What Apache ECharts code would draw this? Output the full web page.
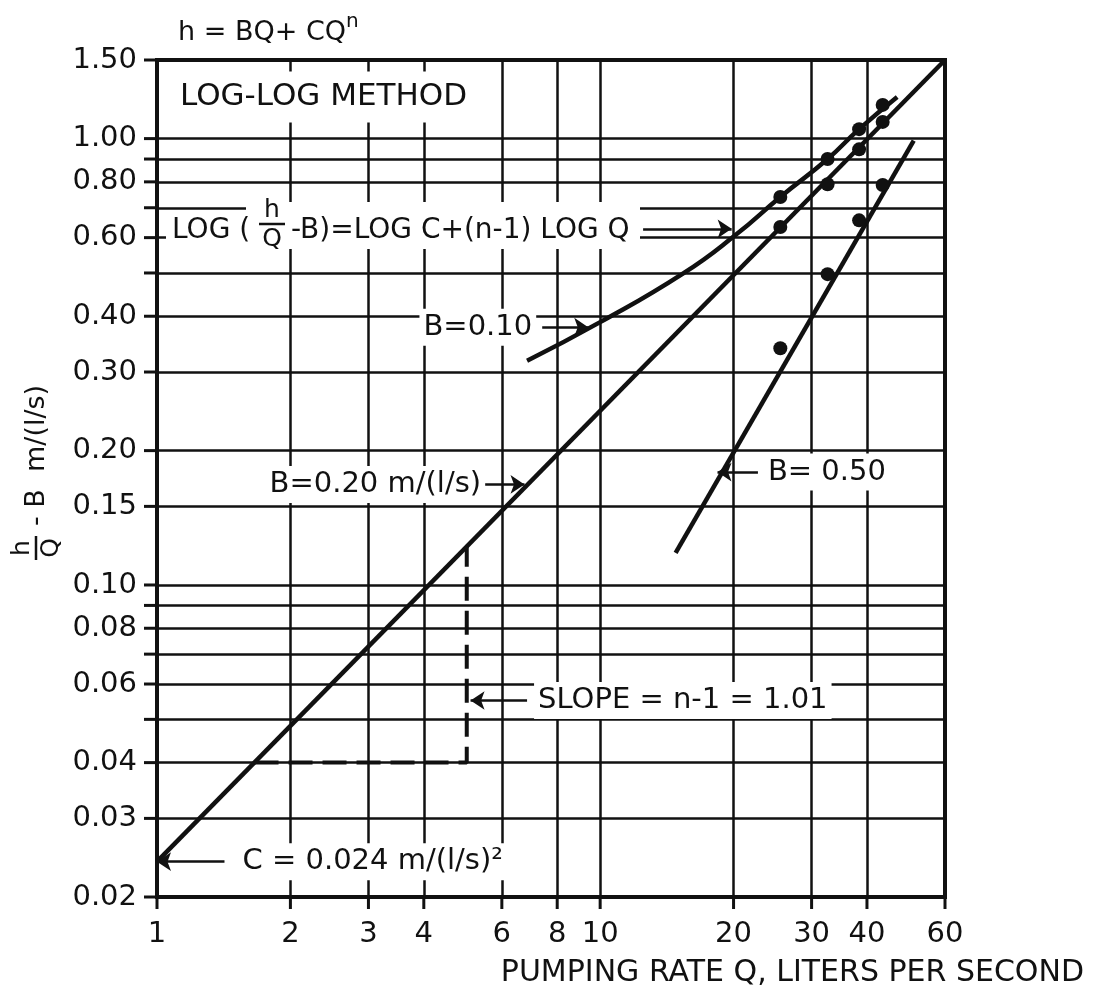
<!DOCTYPE html>
<html>
<head>
<meta charset="utf-8">
<script src="https://cdn.jsdelivr.net/npm/echarts@6/dist/echarts.min.js"></script>
<style>
  html, body { margin: 0; padding: 0; background: #fff; }
  #chart { width: 1097px; height: 991px; }
</style>
</head>
<body>
<div id="chart"></div>
<script>
// log-log paper, Q in l/s against h/Q - B
const xGrid = [2, 3, 4, 6, 8, 10, 20, 30, 40];
const xTicks = [1, 2, 3, 4, 6, 8, 10, 20, 30, 40, 60];
const xTickLabels = ['1', '2', '3', '4', '6', '8', '10', '20', '30', '40', '60'];
const yGrid = [1.0, 0.9, 0.8, 0.7, 0.6, 0.5, 0.4, 0.3, 0.2, 0.15, 0.1, 0.09, 0.08, 0.07, 0.06, 0.05, 0.04, 0.03];
const yTicks = [1.5, 1.0, 0.9, 0.8, 0.7, 0.6, 0.5, 0.4, 0.3, 0.2, 0.15, 0.1, 0.09, 0.08, 0.07, 0.06, 0.05, 0.04, 0.03, 0.02];
const yTickLabels = ['1.50', '1.00', '', '0.80', '', '0.60', '', '0.40', '0.30', '0.20', '0.15', '0.10', '', '0.08', '', '0.06', '', '0.04', '0.03', '0.02'];

// pumping test points
const qTest = [25.5, 32.6, 38.4, 43.4];
const b10Pts = [0.74, 0.90, 1.05, 1.19];
const b20Pts = [0.634, 0.79, 0.946, 1.09];
const b50Pts = [0.339, 0.497, 0.656, 0.787];

// fitted curves
const b10CurveQ = [6.84, 10, 15.4, 20.2, 25.5, 32.6, 38.4, 46.8];
const b10CurveV = [0.318, 0.388, 0.499, 0.608, 0.74, 0.90, 1.05, 1.24];
const b20LineQ = [1, 60];
const b20LineV = [0.024, 1.5];
const b50LineQ = [14.8, 51];
const b50LineV = [0.118, 0.99];
const slopeQ = [1.66, 5, 5];
const slopeV = [0.04, 0.04, 0.122];

// arrows: text, tail, head, gap
const noteText = ['B=0.10', 'B=0.20 m/(l/s)', 'B= 0.50', 'SLOPE = n-1 = 1.01', 'C = 0.024 m/(l/s)\u00b2', ''];
const noteFrom = [[7.4, 0.378], [5.5, 0.168], [22.7, 0.179], [6.84, 0.0551], [1.42, 0.024], [12.5, 0.628]];
const noteTo = [[9.4, 0.378], [6.75, 0.168], [18.4, 0.179], [5.1, 0.0551], [1.0, 0.024], [19.8, 0.628]];
const noteGap = [6, 0, 6, 7, 14, 0];

const FONT = '"DejaVu Sans", "Liberation Sans", sans-serif';
const INK = '#111';

const pairs = (xs, ys) => xs.map((x, i) => [x, ys[i]]);
const plainAxis = {
  type: 'log',
  logBase: 10,
  axisLine: { show: false },
  axisTick: { show: false },
  axisLabel: { show: false },
  splitLine: { show: false }
};

let myChart = echarts.init(document.getElementById('chart'));

let option = {
  animation: false,
  backgroundColor: '#fff',
  grid: {
    left: 157, right: 152, top: 60, bottom: 94,
    show: true, borderColor: INK, borderWidth: 4,
    outerBoundsMode: 'none'
  },
  xAxis: Object.assign({}, plainAxis, { min: 1, max: 60 }),
  yAxis: Object.assign({}, plainAxis, { min: 0.02, max: 1.5 }),
  series: [
    {
      name: 'grid',
      type: 'line',
      data: [],
      z: 1,
      silent: true,
      markLine: {
        silent: true,
        animation: false,
        symbol: 'none',
        label: { show: false },
        emphasis: { disabled: true },
        lineStyle: { color: INK, width: 2.5, type: 'solid' },
        data: yGrid.map(v => ({ yAxis: v })).concat(xGrid.map(v => ({ xAxis: v })))
      }
    },
    {
      name: 'yTicks',
      type: 'scatter',
      clip: false,
      silent: true,
      z: 2,
      symbol: 'rect',
      symbolSize: [13, 3],
      symbolOffset: [-6.5, 0],
      itemStyle: { color: INK, opacity: 1 },
      label: {
        show: true, position: 'left', distance: 7,
        fontFamily: FONT, fontSize: 29, color: INK,
        formatter: p => yTickLabels[p.dataIndex]
      },
      data: yTicks.map(v => [1, v])
    },
    {
      name: 'xTicks',
      type: 'scatter',
      clip: false,
      silent: true,
      z: 2,
      symbol: 'rect',
      symbolSize: [3, 12],
      symbolOffset: [0, 6],
      itemStyle: { color: INK, opacity: 1 },
      label: {
        show: true, position: 'bottom', distance: 11,
        fontFamily: FONT, fontSize: 29, color: INK,
        formatter: p => xTickLabels[p.dataIndex]
      },
      data: xTicks.map(v => [v, 0.02])
    },
    {
      name: 'B=0.20',
      type: 'line',
      z: 3,
      symbol: 'none',
      lineStyle: { color: INK, width: 4.5 },
      data: pairs(b20LineQ, b20LineV)
    },
    {
      name: 'B=0.10',
      type: 'line',
      z: 3,
      symbol: 'none',
      smooth: 0.5,
      lineStyle: { color: INK, width: 4.5 },
      data: pairs(b10CurveQ, b10CurveV)
    },
    {
      name: 'B=0.50',
      type: 'line',
      z: 3,
      symbol: 'none',
      lineStyle: { color: INK, width: 4.5 },
      data: pairs(b50LineQ, b50LineV)
    },
    {
      name: 'slope',
      type: 'line',
      z: 3,
      symbol: 'none',
      lineStyle: { color: INK, width: 4, type: [24, 10] },
      data: pairs(slopeQ, slopeV)
    },
    {
      name: 'points',
      type: 'scatter',
      z: 5,
      symbol: 'circle',
      symbolSize: 14,
      itemStyle: { color: INK, opacity: 1 },
      data: pairs(qTest, b10Pts).concat(pairs(qTest, b20Pts), pairs(qTest, b50Pts))
    },
    {
      name: 'notes',
      type: 'line',
      data: [],
      z: 4,
      silent: true,
      markLine: {
        silent: true,
        animation: false,
        symbol: ['none', 'arrow'],
        symbolSize: 14,
        lineStyle: { color: INK, width: 2.5, type: 'solid' },
        label: {
          show: true, position: 'start',
          fontFamily: FONT, fontSize: 29, color: INK,
          backgroundColor: '#fff', padding: [5, 4, 3, 4]
        },
        data: noteText.map((t, i) => [
          { coord: noteFrom[i], label: { show: t !== '', formatter: t, distance: noteGap[i] } },
          { coord: noteTo[i] }
        ])
      }
    }
  ],
  graphic: [
    // formula above the frame
    { type: 'text', x: 178, y: 33, z: 100,
      style: { text: 'h = BQ+ CQ', font: '27px ' + FONT, fill: INK, verticalAlign: 'middle' } },
    { type: 'text', x: 346, y: 22, z: 100,
      style: { text: 'n', font: '20px ' + FONT, fill: INK, verticalAlign: 'middle' } },
    // box in the top left corner
    { type: 'text', x: 160, y: 97, z: 100,
      style: { text: 'LOG-LOG METHOD', font: '31px ' + FONT, fill: INK, verticalAlign: 'middle',
        backgroundColor: '#fff', padding: [10, 12, 10, 20] } },
    // equation box
    { type: 'rect', z: 100, shape: { x: 166, y: 212, width: 474, height: 37 }, style: { fill: '#fff' } },
    { type: 'rect', z: 100, shape: { x: 246, y: 202, width: 394, height: 12 }, style: { fill: '#fff' } },
    { type: 'text', x: 172, y: 231, z: 101,
      style: { text: 'LOG (', font: '28px ' + FONT, fill: INK, verticalAlign: 'middle' } },
    { type: 'text', x: 272, y: 210, z: 101,
      style: { text: 'h', font: '25px ' + FONT, fill: INK, align: 'center', verticalAlign: 'middle' } },
    { type: 'line', z: 101, shape: { x1: 259, y1: 224, x2: 285, y2: 224 }, style: { stroke: INK, lineWidth: 2.5 } },
    { type: 'text', x: 272, y: 239, z: 101,
      style: { text: 'Q', font: '25px ' + FONT, fill: INK, align: 'center', verticalAlign: 'middle' } },
    { type: 'text', x: 291, y: 231, z: 101,
      style: { text: '-B)=LOG C+(n-1) LOG Q', font: '28px ' + FONT, fill: INK, verticalAlign: 'middle' } },
    // y axis title, rotated
    { type: 'group', x: 36, y: 548, rotation: Math.PI / 2, z: 100, children: [
      { type: 'text', x: 0, y: -14, z: 100,
        style: { text: 'h', font: '25px ' + FONT, fill: INK, align: 'center', verticalAlign: 'middle' } },
      { type: 'line', z: 100, shape: { x1: -12, y1: 0, x2: 12, y2: 0 }, style: { stroke: INK, lineWidth: 2.5 } },
      { type: 'text', x: 0, y: 15, z: 100,
        style: { text: 'Q', font: '25px ' + FONT, fill: INK, align: 'center', verticalAlign: 'middle' } },
      { type: 'text', x: 22, y: 1, z: 100,
        style: { text: '- B  m/(l/s)', font: '27px ' + FONT, fill: INK, verticalAlign: 'middle' } }
    ] },
    // x axis title
    { type: 'text', x: 1084, y: 973, z: 100,
      style: { text: 'PUMPING RATE Q, LITERS PER SECOND', font: '30px ' + FONT, fill: INK,
        align: 'right', verticalAlign: 'middle' } }
  ]
};

myChart.setOption(option);
</script>
</body>
</html>
